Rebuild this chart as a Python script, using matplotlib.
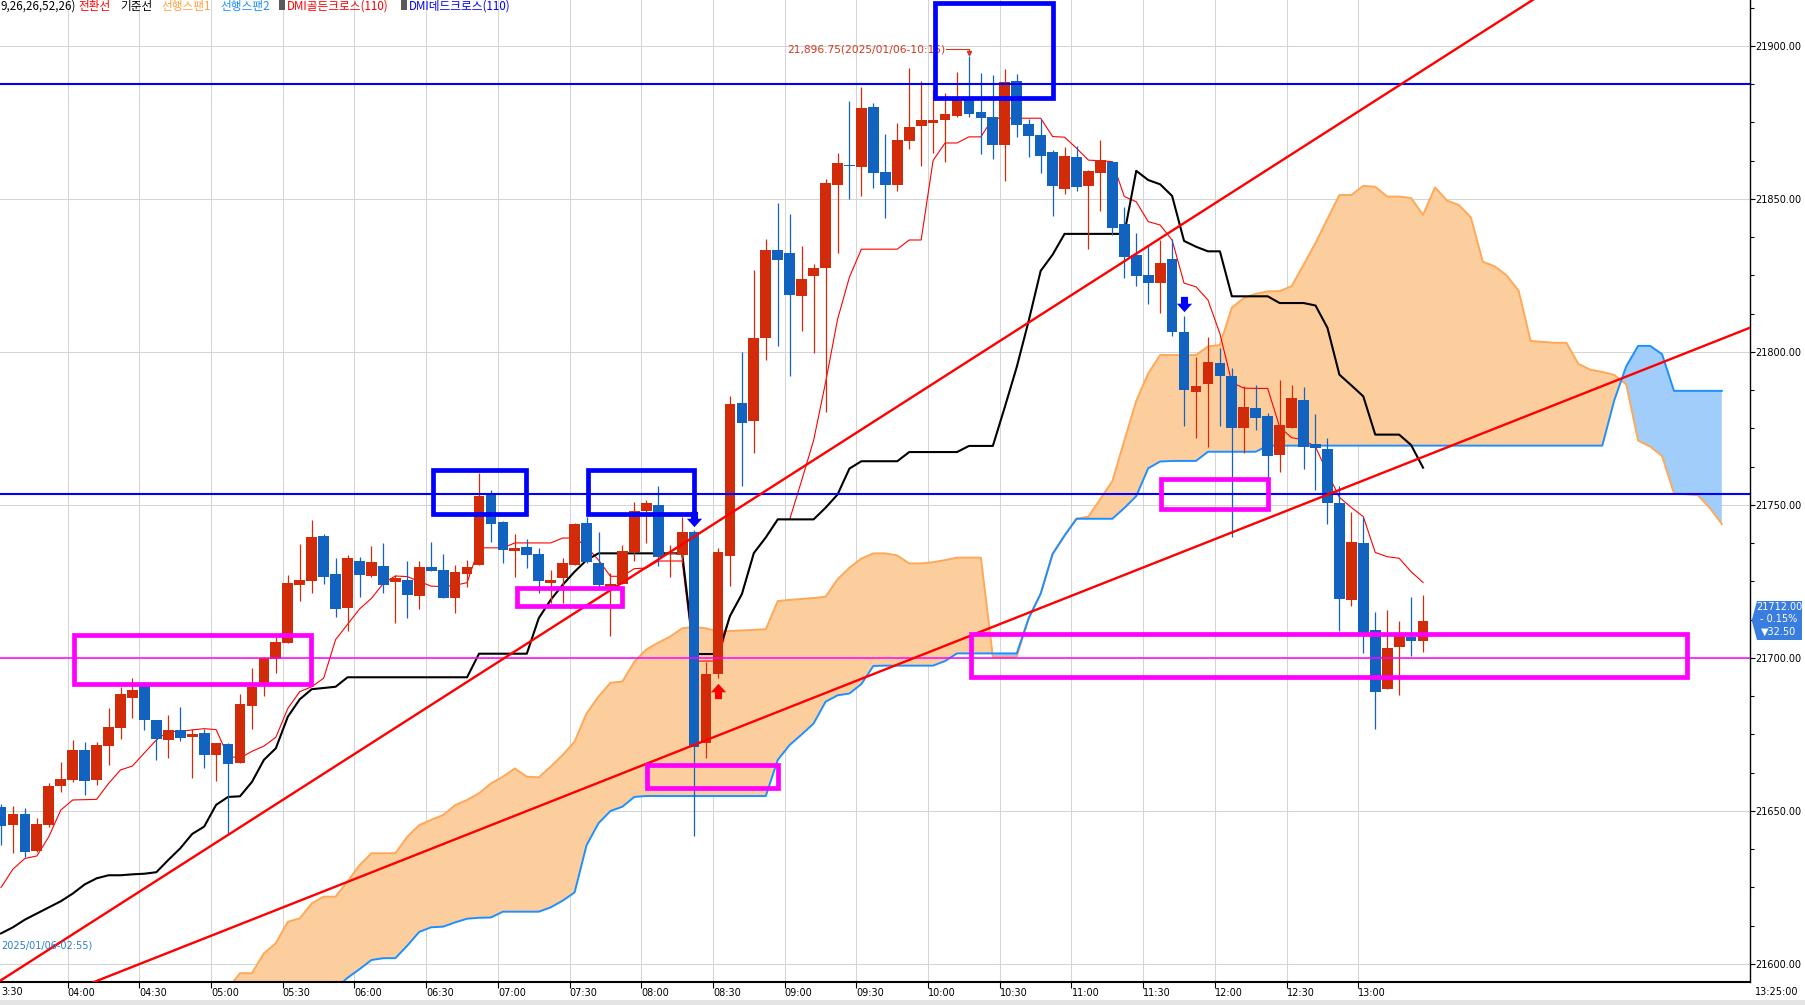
import numpy as np
import matplotlib
matplotlib.use("Agg")
import matplotlib.pyplot as plt
from matplotlib.patches import Rectangle, Polygon
from matplotlib.path import Path

W, H = 1806, 1005
KR = ['Noto Sans CJK KR', 'DejaVu Sans']

# 5 minute candles, index 0 = 03:30
OPEN = [21651.2, 21645.4, 21649.0, 21637.0, 21645.4, 21658.3, 21660.1, 21669.9, 21660.1, 21671.2,
        21677.1, 21687.0, 21691.2, 21679.7, 21673.2, 21676.5, 21674.3, 21675.6, 21668.3, 21671.9,
        21665.8, 21684.3, 21691.9, 21699.6, 21705.0, 21723.9, 21725.3, 21739.9, 21727.4, 21716.4,
        21731.8, 21726.8, 21730.1, 21724.9, 21725.5, 21720.3, 21729.7, 21728.7, 21719.7, 21727.4,
        21730.4, 21753.6, 21744.4, 21735.0, 21736.3, 21734.0, 21724.6, 21726.2, 21730.4, 21744.1,
        21730.9, 21723.3, 21724.2, 21734.7, 21748.1, 21750.0, 21734.0, 21733.7, 21741.3, 21672.1,
        21694.8, 21733.4, 21783.3, 21777.6, 21804.7, 21833.3, 21832.5, 21818.3, 21824.8, 21827.5,
        21854.6, 21861.1, 21860.6, 21880.1, 21858.8, 21854.6, 21869.1, 21874.0, 21874.9, 21875.8,
        21877.1, 21882.4, 21878.5, 21876.7, 21867.7, 21888.6, 21874.5, 21870.9, 21865.5, 21853.3,
        21863.8, 21854.4, 21858.6, 21862.1, 21841.8, 21831.7, 21825.2, 21822.7, 21830.4, 21806.4,
        21787.0, 21789.4, 21796.3, 21792.2, 21775.1, 21781.6, 21779.1, 21766.5, 21775.3, 21784.3,
        21769.9, 21768.4, 21750.5, 21719.0, 21737.5, 21709.3, 21689.9, 21703.7, 21706.9, 21705.6]
HIGH = [21652.3, 21651.6, 21650.9, 21647.6, 21659.0, 21666.0, 21673.2, 21672.4, 21672.4, 21683.5,
        21690.6, 21693.6, 21692.3, 21679.7, 21681.4, 21684.0, 21676.7, 21676.7, 21672.1, 21672.3,
        21688.2, 21696.8, 21700.4, 21707.0, 21727.1, 21737.3, 21745.1, 21740.5, 21732.6, 21733.5,
        21732.9, 21736.6, 21737.5, 21727.1, 21731.8, 21731.8, 21738.0, 21734.0, 21730.4, 21732.0,
        21760.6, 21754.9, 21744.9, 21740.5, 21738.8, 21735.8, 21728.7, 21732.6, 21744.2, 21746.2,
        21741.3, 21727.7, 21736.9, 21751.1, 21751.6, 21756.2, 21736.9, 21746.2, 21741.8, 21698.8,
        21735.8, 21785.6, 21800.0, 21826.8, 21836.9, 21848.8, 21845.0, 21834.6, 21828.8, 21856.4,
        21864.9, 21882.0, 21886.7, 21881.3, 21871.2, 21874.7, 21892.7, 21888.6, 21885.6, 21884.5,
        21891.4, 21896.75, 21891.1, 21890.5, 21892.4, 21890.8, 21876.2, 21876.2, 21866.0, 21866.9,
        21867.3, 21859.4, 21869.3, 21862.4, 21847.5, 21838.8, 21835.0, 21836.6, 21836.8, 21811.8,
        21798.3, 21805.0, 21801.2, 21794.7, 21788.9, 21789.2, 21779.9, 21790.8, 21789.2, 21788.7,
        21779.8, 21771.8, 21756.2, 21747.6, 21746.2, 21715.0, 21715.7, 21712.2, 21719.9, 21720.6]
LOW = [21638.9, 21636.4, 21635.1, 21636.7, 21644.9, 21656.3, 21659.6, 21655.2, 21658.5, 21665.0,
       21673.5, 21680.3, 21676.5, 21666.7, 21667.2, 21673.0, 21660.9, 21664.2, 21659.8, 21642.2,
       21665.8, 21676.8, 21687.6, 21695.2, 21705.0, 21718.7, 21721.4, 21724.2, 21713.3, 21708.9,
       21720.0, 21726.4, 21721.3, 21711.3, 21713.0, 21715.9, 21728.4, 21719.7, 21714.8, 21723.3,
       21730.4, 21738.0, 21731.2, 21726.6, 21729.3, 21721.3, 21717.9, 21717.9, 21730.4, 21731.2,
       21723.3, 21707.2, 21724.2, 21731.8, 21737.7, 21730.1, 21726.6, 21730.9, 21641.8, 21667.2,
       21693.4, 21723.6, 21756.2, 21766.9, 21797.4, 21801.9, 21792.2, 21806.9, 21799.6, 21780.5,
       21832.5, 21850.0, 21851.1, 21853.7, 21843.9, 21852.7, 21866.3, 21860.9, 21864.9, 21862.2,
       21876.7, 21876.9, 21864.7, 21863.1, 21856.0, 21870.1, 21863.6, 21858.4, 21844.6, 21851.5,
       21852.7, 21833.5, 21846.2, 21838.2, 21824.1, 21821.6, 21815.7, 21812.8, 21805.2, 21775.8,
       21772.0, 21769.1, 21775.8, 21739.6, 21766.9, 21774.5, 21758.7, 21760.7, 21775.3, 21761.6,
       21754.9, 21743.9, 21708.9, 21717.0, 21701.7, 21676.8, 21689.9, 21688.0, 21700.6, 21702.1]
CLOSE = [21645.1, 21649.0, 21636.7, 21645.7, 21658.2, 21660.5, 21669.9, 21659.9, 21671.5, 21677.4,
         21688.2, 21689.5, 21679.7, 21673.5, 21676.5, 21673.9, 21675.2, 21668.3, 21672.1, 21665.4,
         21685.0, 21690.6, 21700.0, 21705.2, 21724.5, 21725.5, 21739.5, 21726.6, 21716.1, 21732.8,
         21727.1, 21731.4, 21723.9, 21726.2, 21720.6, 21729.6, 21728.4, 21719.7, 21728.1, 21729.7,
         21752.9, 21743.8, 21735.3, 21735.8, 21733.7, 21725.2, 21725.5, 21730.9, 21743.8, 21731.5,
         21723.9, 21724.2, 21735.0, 21748.0, 21750.8, 21733.1, 21734.4, 21741.3, 21671.0, 21694.8,
         21734.6, 21783.0, 21776.9, 21804.7, 21833.3, 21830.1, 21818.6, 21823.9, 21827.5, 21855.1,
         21861.7, 21860.8, 21879.7, 21858.6, 21854.6, 21869.3, 21873.4, 21875.8, 21875.8, 21877.7,
         21882.4, 21877.8, 21876.6, 21867.7, 21888.1, 21874.2, 21870.6, 21864.1, 21854.4, 21864.1,
         21854.0, 21859.1, 21862.7, 21840.6, 21831.2, 21824.8, 21822.7, 21829.0, 21806.6, 21787.6,
         21788.9, 21796.6, 21792.2, 21775.1, 21781.9, 21778.3, 21766.1, 21776.1, 21784.9, 21769.0,
         21768.5, 21750.5, 21719.3, 21737.8, 21708.1, 21689.0, 21703.2, 21707.2, 21705.4, 21712.0]

# ichimoku lines
TENKAN = [21625, 21631, 21634.5, 21635.3, 21641.6, 21650.3, 21653.6, 21653.7, 21653.8, 21659.0,
          21663.4, 21664.7, 21669.0, 21673.2, 21676.0, 21676.0, 21676.5, 21676.9, 21676.6, 21667.9,
          21667.3, 21669.5, 21671.2, 21674.1, 21683.5, 21689.0, 21690.6, 21693.4, 21706.0, 21711.0,
          21716.0, 21719.5, 21724.4, 21726.8, 21726.6, 21725.0, 21723.5, 21723.3, 21723.8, 21724.6,
          21736.0, 21736.0, 21736.0, 21737.6, 21737.6, 21737.6, 21737.6, 21739.2, 21739.2, 21736.4,
          21732.0, 21726.7, 21726.7, 21729.2, 21729.4, 21731.7, 21731.7, 21731.7, 21699.0, 21699.0,
          21699.0, 21713.7, 21720.9, 21734.3, 21739.4, 21745.3, 21745.3, 21758.0, 21771.1, 21790.0,
          21810.6, 21824.5, 21833.6, 21833.6, 21833.6, 21833.6, 21836.6, 21836.6, 21862.6, 21868.3,
          21868.3, 21870.3, 21870.3, 21876.4, 21876.4, 21876.4, 21876.4, 21876.4, 21870.4, 21870.2,
          21866.6, 21862.7, 21862.5, 21862.2, 21850.8, 21849.1, 21842.6, 21841.5, 21836.6, 21822.5,
          21821.3, 21817.0, 21806.0, 21790.0, 21788.2, 21788.1, 21788.1, 21775.5, 21772.0, 21771.3,
          21769.0, 21760.5, 21752.5, 21749.2, 21746.2, 21734.5, 21733.1, 21732.6, 21728.2, 21724.7]
KIJUN = [21610, 21612, 21614.5, 21616.5, 21618.5, 21620.5, 21623, 21626, 21628, 21629,
         21629, 21629.3, 21629.5, 21630, 21634, 21637.8, 21642.5, 21644.9, 21652, 21654.6,
         21654.8, 21659.5, 21666.7, 21670.5, 21680.8, 21686.5, 21689.8, 21690.2, 21690.6, 21693.7,
         21693.7, 21693.7, 21693.7, 21693.7, 21693.7, 21693.7, 21693.7, 21693.7, 21693.7, 21693.7,
         21701.4, 21701.4, 21701.4, 21701.4, 21701.4, 21713, 21719, 21723.9, 21728.2, 21732,
         21734.2, 21734.2, 21734.2, 21734.2, 21734.2, 21734.2, 21734.2, 21734.2, 21701.3, 21701.3,
         21701.3, 21713.7, 21720.9, 21734.3, 21739.4, 21745.3, 21745.3, 21745.3, 21745.3, 21749.1,
         21753.4, 21761.9, 21764.3, 21764.3, 21764.3, 21764.3, 21767.3, 21767.3, 21767.3, 21767.3,
         21767.3, 21769.3, 21769.3, 21769.3, 21782.0, 21795.1, 21810.2, 21826.5, 21831.8, 21838.6,
         21838.6, 21838.6, 21838.6, 21838.6, 21838.6, 21859.2, 21856.2, 21854.8, 21851.0, 21836.3,
         21834.4, 21832.9, 21832.9, 21818.2, 21818.2, 21818.2, 21818.2, 21816.0, 21816.0, 21816.0,
         21815.2, 21807.9, 21792.6, 21789.1, 21785.5, 21773.0, 21773.0, 21773.0, 21769.6, 21762.2]

SPAN_START = 18
SPAN1 = [21588, 21592, 21597, 21597, 21603.5, 21606.8, 21613.8, 21614.9, 21619.8, 21622,
         21622, 21627, 21632.3, 21636.2, 21636.2, 21636.2, 21641.6, 21645.4, 21647.1, 21648.7,
         21651.9, 21653.6, 21655.8, 21659, 21661.2, 21663.9, 21661.2, 21661, 21664.5, 21668.3,
         21672.7, 21681.9, 21687.4, 21691.9, 21692.3, 21698.8, 21702.8, 21705, 21707, 21709.7,
         21710.2, 21709.7, 21708.6, 21708.8, 21709, 21709.2, 21709.4, 21718.6, 21719, 21719.3,
         21719.6, 21720, 21725.7, 21729.5, 21732.5, 21734.2, 21734.2, 21733.5, 21730.9, 21730.9,
         21731.3, 21732, 21732.8, 21732.8, 21732.8, 21700.4, 21700.4, 21700.4, 21713, 21721,
         21734, 21740, 21745.5, 21746.2, 21752, 21757.8, 21771, 21784, 21793, 21799,
         21799, 21799, 21799, 21801.8, 21802.3, 21814.5, 21817.6, 21819, 21819.8, 21819.9,
         21821.5, 21828.5, 21835.6, 21843.5, 21851.3, 21851.3, 21854.3, 21854, 21850.8, 21850.8,
         21850.3, 21844.8, 21853.8, 21849.5, 21848, 21844, 21829.5, 21828, 21825, 21820,
         21803.6, 21803.3, 21803, 21803, 21796.1, 21794.2, 21793.5, 21792.5, 21789.4, 21771,
         21769.1, 21766, 21753.8, 21753.5, 21753.2, 21749, 21743.8]
SPAN2 = [21572, 21574, 21576, 21578, 21580, 21582, 21584, 21586, 21588, 21590,
         21592, 21595.5, 21598.3, 21601.3, 21601.9, 21601.9, 21606, 21610.5, 21612, 21612.2,
         21613.6, 21614.8, 21615.1, 21615.2, 21617.1, 21617.1, 21617.1, 21617.1, 21618.5, 21620.7,
         21623.4, 21638.8, 21646, 21650, 21651.4, 21654.6, 21654.9, 21654.9, 21654.9, 21654.9,
         21654.9, 21654.9, 21654.9, 21654.9, 21654.9, 21654.9, 21654.9, 21666.7, 21671.6, 21675,
         21678.6, 21685.7, 21687.8, 21688.4, 21691.5, 21697.4, 21697.5, 21697.5, 21697.5, 21697.5,
         21697.5, 21699, 21701.5, 21701.5, 21701.5, 21701.5, 21701.5, 21701.5, 21713, 21721,
         21734, 21740, 21745.5, 21745.5, 21745.5, 21745.5, 21749, 21752.9, 21762, 21764.2,
         21764.4, 21764.4, 21764.4, 21767.4, 21767.4, 21767.4, 21767.4, 21767.4, 21769.4, 21769.4,
         21769.4, 21769.4, 21769.4, 21769.4, 21769.4, 21769.4, 21769.4, 21769.4, 21769.4, 21769.4,
         21769.4, 21769.4, 21769.4, 21769.4, 21769.4, 21769.4, 21769.4, 21769.4, 21769.4, 21769.4,
         21769.4, 21769.4, 21769.4, 21769.4, 21769.4, 21769.4, 21769.4, 21784.2, 21795.3, 21802,
         21802, 21799.3, 21787.3, 21787.3, 21787.3, 21787.3, 21787.3]

TIME_LABELS = ['04:00', '04:30', '05:00', '05:30', '06:00', '06:30', '07:00', '07:30', '08:00',
               '08:30', '09:00', '09:30', '10:00', '10:30', '11:00', '11:30', '12:00', '12:30', '13:00']
PRICE_TICKS = [21600, 21650, 21700, 21750, 21800, 21850, 21900]

BLUE_LEVELS = [21887.6, 21753.7]
PINK_LEVEL = 21700.0
# (x0, x1, y0, y1) in candle index / price
BLUE_BOXES = [(78.2, 88.0, 21882.9, 21913.9), (36.15, 43.96, 21747.1, 21761.5),
              (49.1, 58.0, 21747.1, 21761.5)]
PINK_BOXES = [(6.13, 25.98, 21691.4, 21707.5), (43.15, 51.95, 21716.9, 21723.0),
              (54.1, 65.0, 21657.5, 21665.1), (97.1, 106.05, 21748.6, 21758.4),
              (81.15, 141.1, 21693.7, 21708.0)]
TRENDS = [((0, 21594.7), (146.4, 21960.6)), ((0, 21582.1), (146.4, 21808.0))]
DEAD_CROSS = [(58, 21745.3), (99, 21815.7)]
GOLDEN_CROSS = [(60, 21689.2)]
HIGH_LABEL = '21,896.75(2025/01/06-10:15)'
LOW_LABEL = '2025/01/06-02:55)'
LAST_PCT = 0.15
LAST_CHG = 32.50

RED = '#d22b0a'
BLUE = '#1163bf'


def px(x, y):
    return x / W, 1 - y / H


fig = plt.figure(figsize=(W / 100, H / 100), dpi=100)
ax = fig.add_axes([0, 1 - 981.5 / H, 1750 / W, 981.5 / H])
ax.set_xlim(-0.084, 146.36)
ax.set_ylim(21594.28, 21915.03)

idx = np.arange(len(OPEN))
o, h, l, c = map(np.array, (OPEN, HIGH, LOW, CLOSE))
up = c >= o
cols = np.where(up, RED, BLUE)

# cloud
sidx = np.arange(SPAN_START, SPAN_START + len(SPAN1))
s1, s2 = np.array(SPAN1), np.array(SPAN2)
ax.fill_between(sidx, s1, s2, where=s1 >= s2, interpolate=True, color='#fdce9d', lw=0, zorder=1)
ax.fill_between(sidx, s1, s2, where=s1 < s2, interpolate=True, color='#a0cdfa', lw=0, zorder=1)
ax.plot(sidx, s1, color='#ffa857', lw=1.4, zorder=1.5)
ax.plot(sidx, s2, color='#1e8fff', lw=1.4, zorder=1.6)

ax.plot(idx, TENKAN, color='#ff0000', lw=0.8, zorder=2)
ax.plot(idx, KIJUN, color='black', lw=1.5, zorder=2)

# candles
ax.vlines(idx, l, h, colors=cols, lw=0.9, zorder=3)
body = np.maximum(np.abs(c - o), 0.4)
ax.bar(idx, body, bottom=np.minimum(o, c), width=0.9, color=cols, lw=0, zorder=3.1)

# high marker
hi = int(np.argmax(h))
ax.text(hi - 2.0, 21898.9, HIGH_LABEL, color='#d23a1e', fontsize=7.7, ha='right', va='center', zorder=4)
ax.plot([hi - 1.95, hi, hi], [21898.9, 21898.9, 21897.8], color='#d23a1e', lw=0.8, zorder=4)
ax.plot([hi], [21897.6], marker='v', ms=3, color='#d23a1e', zorder=4)

for lv in BLUE_LEVELS:
    ax.axhline(lv, color='#0000ff', lw=1.5, zorder=4.5)
ax.axhline(PINK_LEVEL, color='#ff00ff', lw=1.1, zorder=4.5)

xs = np.array([-5, 150])
for (x0, y0), (x1, y1) in TRENDS:
    k = (y1 - y0) / (x1 - x0)
    ax.plot(xs, y0 + k * (xs - x0), color='#ff0000', lw=1.7, zorder=5)

for x0, x1, y0, y1 in BLUE_BOXES:
    ax.add_patch(Rectangle((x0, y0), x1 - x0, y1 - y0, fill=False, ec='#0000ff', lw=3.4,
                           joinstyle='miter', zorder=6))
for x0, x1, y0, y1 in PINK_BOXES:
    ax.add_patch(Rectangle((x0, y0), x1 - x0, y1 - y0, fill=False, ec='#ff00ff', lw=3.4,
                           joinstyle='miter', zorder=6))

down = Path([(-0.23, 0.5), (0.23, 0.5), (0.23, 0.05), (0.5, 0.05), (0, -0.5),
             (-0.5, 0.05), (-0.23, 0.05), (-0.23, 0.5)], closed=True)
upa = Path([(-0.23, -0.5), (0.23, -0.5), (0.23, -0.05), (0.5, -0.05), (0, 0.5),
            (-0.5, -0.05), (-0.23, -0.05), (-0.23, -0.5)], closed=True)
for x, y in DEAD_CROSS:
    ax.plot([x], [y], marker=down, ms=11, color='#0000ff', mew=0, zorder=7)
for x, y in GOLDEN_CROSS:
    ax.plot([x], [y], marker=upa, ms=11, color='#ff0000', mew=0, zorder=7)

# axes styling
for s in ('left', 'top'):
    ax.spines[s].set_visible(False)
ax.spines['right'].set_linewidth(1.0)
ax.spines['bottom'].set_linewidth(1.5)
ax.yaxis.tick_right()
ax.set_yticks(PRICE_TICKS, ['%.2f' % v for v in PRICE_TICKS])
ax.set_yticks(np.arange(21600, 21915, 12.5), minor=True)
ax.tick_params(axis='y', which='major', length=3.6, width=0.8, pad=0.5, labelsize=7)
ax.tick_params(axis='y', which='minor', length=2.9, width=0.8)
gx = [5.58 + 6 * k for k in range(len(TIME_LABELS))]
ax.set_xticks(gx, TIME_LABELS)
for t in ax.get_xticklabels():
    t.set_ha('left')
ax.tick_params(axis='x', length=4, width=0.8, pad=0.5, labelsize=7)
ax.grid(True, which='major', color='#d5d5d5', lw=0.75)
ax.set_axisbelow(True)

fig.text(*px(1, 992), '3:30', fontsize=7, ha='left', va='center')
fig.text(*px(1755, 992), '13:25:00', fontsize=7, ha='left', va='center')
fig.text(*px(1, 945), LOW_LABEL, fontsize=7, color='#2a7fd4', ha='left', va='center')

# last price tag
tag = [px(1751.7, 620.5), px(1757, 601), px(1802, 601), px(1802, 640), px(1757, 640)]
fig.add_artist(Polygon(tag, closed=True, transform=fig.transFigure, fc='#3a7de0', ec='none'))
fig.text(*px(1779, 607), '%.2f' % CLOSE[-1], fontsize=7, color='white', ha='center', va='center')
fig.text(*px(1779, 619.5), '- %.2f%%' % LAST_PCT, fontsize=7, color='white', ha='center', va='center')
fig.text(*px(1779, 632), '\u25bc%.2f' % LAST_CHG, fontsize=7, color='white', ha='center', va='center')

# legend line at the top
ty = 6.5
fig.text(*px(1, ty), '9,26,26,52,26)', fontsize=8.4, family=KR, ha='left', va='center')
for x, s, col in [(78, '전환선', '#ff0000'), (120, '기준선', 'black'), (161, '선행스팬1', '#ffa040'),
                  (220, '선행스팬2', '#1e8fff'), (287, 'DMI골든크로스(110)', '#ff0000'),
                  (409, 'DMI데드크로스(110)', '#0000ff')]:
    fig.text(*px(x, ty), s, fontsize=8.4, family=KR, color=col, ha='left', va='center')
for x in (279, 401):
    fig.add_artist(Rectangle(px(x, 9.6), 6 / W, 9.6 / H, transform=fig.transFigure,
                             fc='#5a5a5a', ec='none'))

fig.add_artist(Rectangle((0, 0), 1, 5 / H, transform=fig.transFigure, fc='#e4e4e4', ec='none'))

fig.savefig('out.png', dpi=100, facecolor='white')
